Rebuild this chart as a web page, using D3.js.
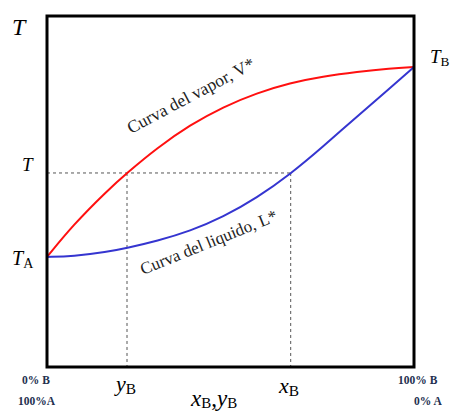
<!DOCTYPE html>
<html>
<head>
<meta charset="utf-8">
<script src="https://cdn.jsdelivr.net/npm/d3@7"></script>
<style>
  body { margin: 0; background: #fff; }
  text { font-family: "Liberation Serif", "DejaVu Serif", serif; }
</style>
</head>
<body>
<script>
// Mole fraction of B (0 = pure A, 1 = pure B)
var vaporX = [0, 0.071, 0.163, 0.218, 0.300, 0.390, 0.480, 0.572, 0.662, 0.752, 0.845, 0.935, 1];
var vaporT = [0, 16.8, 34.7, 44.2, 57.4, 69.5, 79.0, 86.3, 91.6, 95.0, 97.4, 99.2, 100];
var liquidX = [0, 0.071, 0.163, 0.218, 0.300, 0.390, 0.480, 0.572, 0.662, 0.752, 0.845, 0.935, 1];
var liquidT = [0, 0.3, 2.6, 4.7, 8.4, 13.6, 21.0, 31.1, 43.4, 58.0, 74.0, 88.9, 100];

// Operating point
var levelT = 44.2;
var yB = 0.218, xB = 0.664;

window.onload = drawChart();

function drawChart() {
    var width = 450, height = 411;

    var svg = d3.select("body")
        .append("svg")
        .attr("width", width)
        .attr("height", height);

    var x = d3.scaleLinear().domain([0, 1]).range([47, 414]);
    var y = d3.scaleLinear().domain([-57.9, 126.8]).range([367, 16]);

    var line = d3.line()
        .x(function(d) { return x(d[0]); })
        .y(function(d) { return y(d[1]); })
        .curve(d3.curveBasis);

    // dashed guides
    var dash = svg.append("g")
        .attr("stroke", "#555")
        .attr("stroke-width", 1)
        .attr("stroke-dasharray", "3,3")
        .attr("fill", "none");
    dash.append("line")
        .attr("x1", x(0)).attr("x2", x(xB))
        .attr("y1", y(levelT)).attr("y2", y(levelT));
    dash.append("line")
        .attr("x1", x(yB)).attr("x2", x(yB))
        .attr("y1", y(levelT)).attr("y2", y.range()[0]);
    dash.append("line")
        .attr("x1", x(xB)).attr("x2", x(xB))
        .attr("y1", y(levelT)).attr("y2", y.range()[0]);

    // curves
    svg.append("path")
        .datum(d3.zip(vaporX, vaporT))
        .attr("fill", "none")
        .attr("stroke", "#ff1010")
        .attr("stroke-width", 2)
        .attr("d", line);

    svg.append("path")
        .datum(d3.zip(liquidX, liquidT))
        .attr("fill", "none")
        .attr("stroke", "#3535d0")
        .attr("stroke-width", 2)
        .attr("d", line);

    // frame
    svg.append("rect")
        .attr("x", x(0)).attr("y", y.range()[1])
        .attr("width", x(1) - x(0))
        .attr("height", y.range()[0] - y.range()[1])
        .attr("fill", "none")
        .attr("stroke", "#000")
        .attr("stroke-width", 3);

    // axis symbols
    svg.append("text")
        .attr("x", 12).attr("y", 35)
        .attr("font-size", 24).attr("font-style", "italic")
        .text("T");

    svg.append("text")
        .attr("x", 22).attr("y", y(levelT) - 2)
        .attr("font-size", 19).attr("font-style", "italic")
        .text("T");

    function subLabel(px, py, main, sub, size) {
        var t = svg.append("text").attr("x", px).attr("y", py).attr("font-size", size);
        t.append("tspan").attr("font-style", "italic").text(main);
        t.append("tspan").attr("font-size", size * 0.7).attr("dy", 3).text(sub);
        return t;
    }

    subLabel(12, y(0) + 8, "T", "A", 20);
    subLabel(430, y(100) - 4, "T", "B", 19);
    subLabel(116, 391, "y", "B", 22);
    subLabel(279, 393, "x", "B", 22);

    var axisTitle = svg.append("text")
        .attr("x", 191).attr("y", 406)
        .attr("font-size", 23);
    axisTitle.append("tspan").attr("font-style", "italic").text("x");
    axisTitle.append("tspan").attr("font-size", 15).attr("dy", 2).text("B");
    axisTitle.append("tspan").attr("dy", -2).text(",");
    axisTitle.append("tspan").attr("font-style", "italic").text("y");
    axisTitle.append("tspan").attr("font-size", 15).attr("dy", 2).text("B");

    // composition end labels
    var endStyle = function(sel) {
        return sel.attr("font-size", 11.5).attr("font-weight", "bold").attr("fill", "#23304f");
    };
    endStyle(svg.append("text").attr("x", 22).attr("y", 384).text("0% B"));
    endStyle(svg.append("text").attr("x", 18).attr("y", 405).text("100%A"));
    endStyle(svg.append("text").attr("x", 398).attr("y", 384).text("100% B"));
    endStyle(svg.append("text").attr("x", 414).attr("y", 405).text("0% A"));

    // curve labels
    svg.append("text")
        .attr("transform", "translate(131,134) rotate(-28)")
        .attr("font-size", 17.5)
        .attr("fill", "#222")
        .text("Curva del vapor, V*");

    svg.append("text")
        .attr("transform", "translate(143,275) rotate(-22)")
        .attr("font-size", 17)
        .attr("fill", "#222")
        .text("Curva del liquido, L*");
}
</script>
</body>
</html>
